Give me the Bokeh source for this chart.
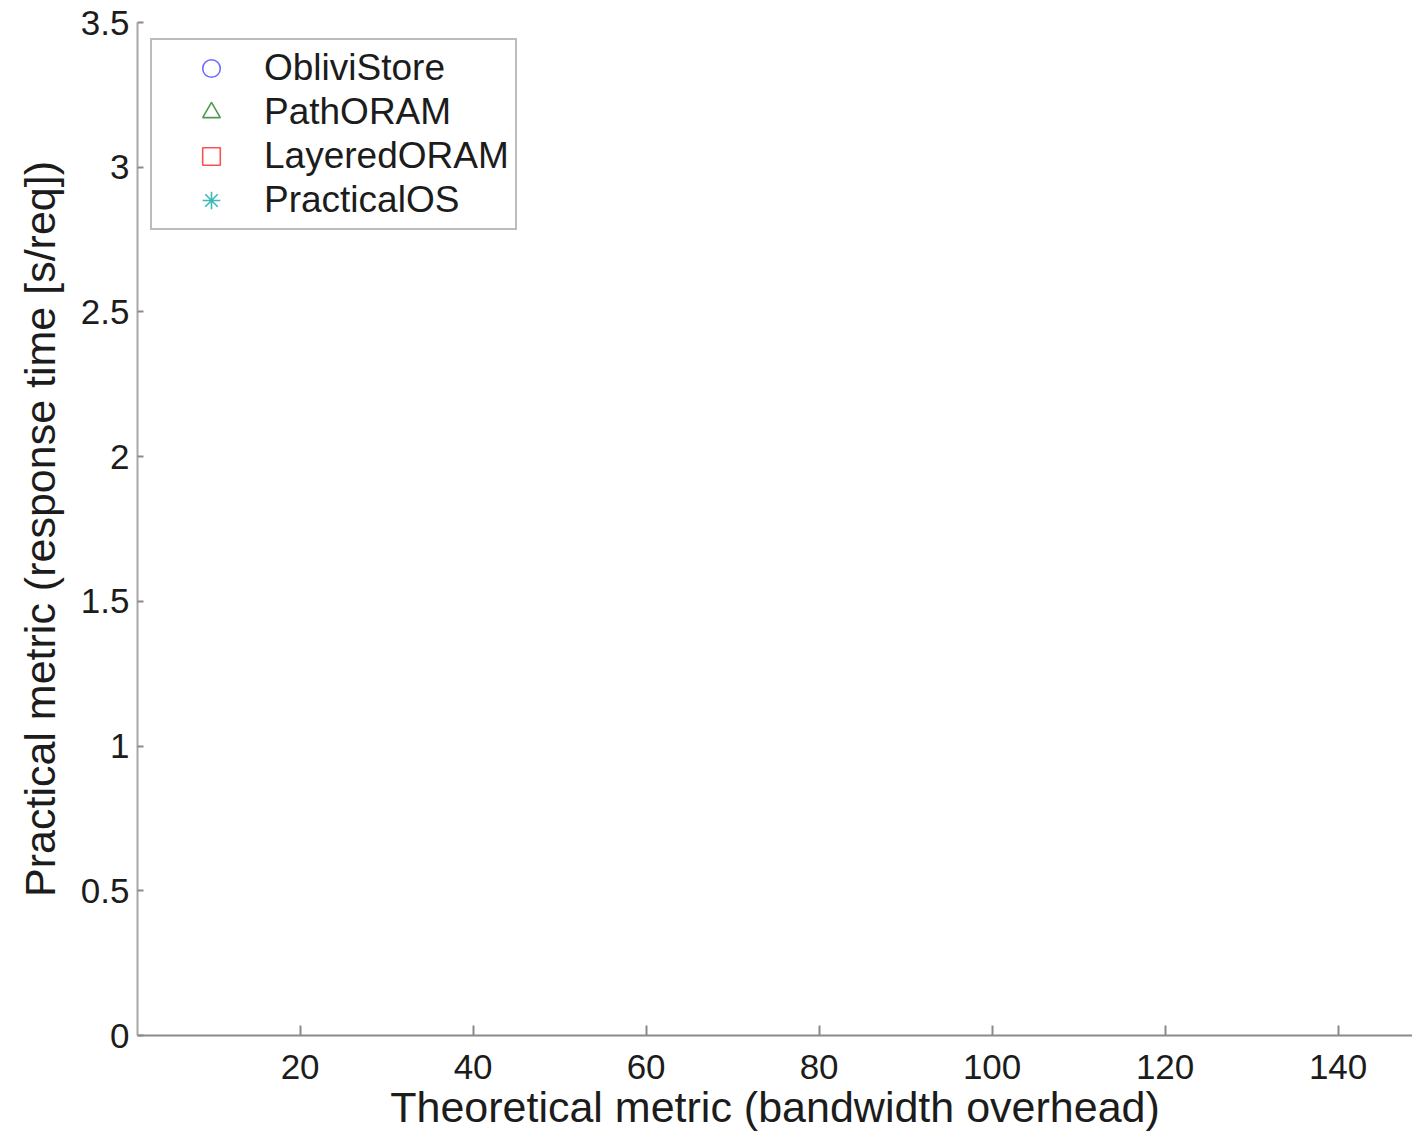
from bokeh.plotting import figure
from bokeh.models import Range1d, Legend, LegendItem, ColumnDataSource, FixedTicker
from bokeh.embed import file_html
from bokeh.resources import INLINE

# ---- data: the reference plot shows no visible data points, only the legend ----
series_names = ["ObliviStore", "PathORAM", "LayeredORAM", "PracticalOS"]
series_markers = ["circle", "triangle", "square", "asterisk"]
series_colors = ["#6b6bff", "#4f9a4f", "#ff5050", "#3cb8b8"]

NaN = float("nan")  # no plotted values visible in the reference
oblivistore_x, oblivistore_y = [NaN], [NaN]
pathoram_x, pathoram_y = [NaN], [NaN]
layeredoram_x, layeredoram_y = [NaN], [NaN]
practicalos_x, practicalos_y = [NaN], [NaN]

x_ticks = [20, 40, 60, 80, 100, 120, 140]
y_ticks = [0, 0.5, 1, 1.5, 2, 2.5, 3, 3.5]
y_tick_labels = ["0", "0.5", "1", "1.5", "2", "2.5", "3", "3.5"]

x_label = "Theoretical metric (bandwidth overhead)"
y_label = "Practical metric (response time [s/req])"

series_data = [
    (oblivistore_x, oblivistore_y),
    (pathoram_x, pathoram_y),
    (layeredoram_x, layeredoram_y),
    (practicalos_x, practicalos_y),
]

FONT = "Liberation Sans"
TEXT = "#1c1c1c"

W, H = 1412, 1133
LEFT, TOP, BOTTOM = 137, 22, 98

p = figure(width=W, height=H, output_backend="svg", toolbar_location=None,
           x_range=Range1d(1.2, 148.6), y_range=Range1d(0, 3.5),
           min_border_left=LEFT, min_border_top=TOP, min_border_right=0,
           min_border_bottom=BOTTOM)
p.outline_line_color = None
p.grid.grid_line_color = None
p.background_fill_color = "white"
p.border_fill_color = "white"

items = []
for name, mk, col, (xs, ys) in zip(series_names, series_markers, series_colors, series_data):
    src = ColumnDataSource(dict(x=xs, y=ys))
    r = p.scatter("x", "y", source=src, marker=mk, size=18, line_color=col,
                  fill_color=None, line_width=1.6)
    items.append(LegendItem(label=name, renderers=[r]))

frame_h = H - TOP - BOTTOM
leg_h = 2 * 6 + 4 * 44
legend = Legend(items=items, location=(13, frame_h - 20 - leg_h), margin=0, padding=6,
                spacing=0, label_height=44, glyph_height=44, glyph_width=106,
                label_standoff=0, label_text_font=FONT, label_text_font_size="37px",
                label_text_color=TEXT, border_line_color="#7a7a7a", border_line_width=2,
                background_fill_color="white", background_fill_alpha=1.0)
p.add_layout(legend)

for ax in (p.xaxis[0], p.yaxis[0]):
    ax.axis_line_width = 2
    ax.major_tick_line_width = 2
    ax.major_tick_out = 0
    ax.minor_tick_line_color = None
    ax.major_label_text_font = FONT
    ax.major_label_text_font_size = "35px"
    ax.major_label_text_color = TEXT
    ax.axis_label_text_font = FONT
    ax.axis_label_text_font_size = "43px"
    ax.axis_label_text_font_style = "normal"
    ax.axis_label_text_color = TEXT

p.xaxis.axis_line_color = "#8a8a8a"
p.xaxis.major_tick_line_color = "#8a8a8a"
p.xaxis.major_tick_in = 10
p.yaxis.axis_line_color = "#a8a8a8"
p.yaxis.major_tick_line_color = "#8a8a8a"
p.yaxis.major_tick_in = 6

p.xaxis.ticker = FixedTicker(ticks=x_ticks)
p.yaxis.ticker = FixedTicker(ticks=y_ticks)
p.yaxis.major_label_overrides = {t: l for t, l in zip(y_ticks, y_tick_labels)}
p.xaxis.axis_label = x_label
p.yaxis.axis_label = y_label
p.xaxis.major_label_standoff = 19
p.xaxis.axis_label_standoff = 1
p.yaxis.major_label_standoff = 8
p.yaxis.axis_label_standoff = 14

open("out.html", "w").write(file_html(p, INLINE))
